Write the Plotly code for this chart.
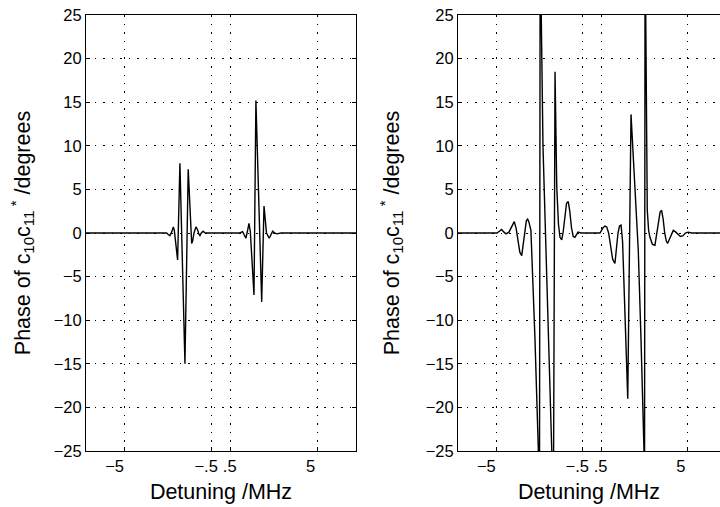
import plotly.graph_objects as go

# ---------------- data ----------------
# x positions are in axis units (grid lines at 0, 4.5, 5.5, 10)
x_left = [-2, 2.10, 2.18, 2.28, 2.35, 2.44, 2.53, 2.58, 2.75, 2.87, 3.13, 3.30, 3.44, 3.48, 3.53,
          3.60, 3.70, 3.78, 3.85, 3.91, 3.98, 4.07, 4.15, 4.25,
          5.90, 5.98, 6.12, 6.22, 6.29, 6.37, 6.45, 6.52, 6.71, 6.81, 7.11, 7.23, 7.36, 7.50,
          7.60, 7.68, 7.78, 7.89, 8.11, 12]
y_left = [0, 0, 0, -0.2, -0.3, 0.1, 0.7, 0.3, -3.1, 8.0, -15.0, 7.3, -0.6, -1.2, -0.9,
          0, 0.7, 0.4, -0.1, -0.3, 0, 0.2, 0.05, 0,
          0, 0, 0.15, -0.3, -0.6, 0.2, 1.1, 0.2, -7.1, 15.2, -7.9, 3.1, 0, -0.6,
          -0.1, 0.2, 0, -0.1, 0, 0]

x_right = [-2, 0.04, 0.16, 0.28, 0.40, 0.51, 0.66, 0.80, 0.94, 1.04, 1.13, 1.23, 1.33, 1.42,
           1.50, 1.57, 1.64, 1.70, 1.81, 2.02, 2.20, 2.25, 2.30, 2.35, 2.44, 2.55, 2.70, 2.90,
           2.97, 3.07, 3.16, 3.25, 3.33, 3.42, 3.50, 3.59, 3.67, 3.76, 3.84, 3.93, 4.02, 4.11,
           4.20, 4.27, 4.43,
           5.42, 5.50, 5.58, 5.68, 5.77, 5.87, 5.97, 6.08, 6.20, 6.30, 6.36, 6.44, 6.52, 6.60,
           6.87, 7.04, 7.34, 7.42, 7.56, 7.72, 7.74, 7.78, 7.81, 7.89, 7.96, 8.03, 8.16, 8.29,
           8.40, 8.48, 8.56, 8.64, 8.72, 8.80, 8.88, 8.95, 9.05, 9.15, 9.25, 9.38, 9.50, 9.62,
           9.76, 9.88, 10.02, 10.2, 11.69]
y_right = [0, 0, 0.2, 0.4, 0.1, -0.1, 0.1, 0.8, 1.3, 0.5, -0.8, -2.2, -2.6, -1.2,
           0.5, 1.4, 1.6, 1.3, 0.3, -12, -25, -45, 45, 25, 10, 1, -11, -25,
           -40, 18.5, 5.3, 1.0, -0.5, -0.8, 0.2, 2.2, 3.4, 3.6, 2.5, 0.6, -0.4, -0.5,
           -0.1, 0.1, 0,
           0, 0.3, 0.6, 0.8, 0.7, 0, -1.5, -3.0, -3.5, -1.5, 0, 0.8, 0.9, -1.0,
           -19, 13.6, 1.5, -2, -12, -25, -45, 45, 25, 2.6, 0.3, -0.5, -1.3, -1.4,
           0, 1.5, 2.4, 2.6, 1.6, 0, -0.9, -1.2, -0.7, 0, 0.3, 0.1, -0.2, -0.4,
           -0.3, 0, 0.1, 0, 0]

ytick_vals = [-25, -20, -15, -10, -5, 0, 5, 10, 15, 20, 25]
xgrid_vals = [0, 4.5, 5.5, 10]
xlabel_pos = [-0.52, 4.23, 5.45, 9.65]
xlabel_text = ["\u22125", "\u2212.5", ".5", "5"]

y_title = "Phase of c<sub>10</sub>c<sub>11</sub><sup> *</sup> /degrees"
x_title = "Detuning /MHz"

# ---------------- figure ----------------
FONT = "Liberation Sans, Arial, Helvetica, sans-serif"
W, H = 720, 507

fig = go.Figure()
fig.add_trace(go.Scatter(x=x_left, y=y_left, mode="lines",
                         line=dict(color="black", width=1.4), xaxis="x", yaxis="y",
                         showlegend=False, hoverinfo="skip"))
fig.add_trace(go.Scatter(x=x_right, y=y_right, mode="lines",
                         line=dict(color="black", width=1.4), xaxis="x2", yaxis="y2",
                         showlegend=False, hoverinfo="skip"))

ydom = [1 - 451 / H, 1 - 15 / H]
DASH = "1.5px,7px"

def xaxis_cfg(dom, rng):
    return dict(domain=dom, range=rng, tickmode="array", tickvals=xlabel_pos,
                ticktext=xlabel_text, ticks="", showgrid=False, zeroline=False,
                showline=True, linecolor="black", linewidth=1, mirror=True,
                tickfont=dict(family=FONT, size=16.5, color="black"),
                title=dict(text=x_title, font=dict(family=FONT, size=21.5, color="black"),
                           standoff=10),
                automargin=False,
                minor=dict(tickmode="array", tickvals=xgrid_vals, ticks="inside",
                           ticklen=4, tickcolor="black", showgrid=True,
                           gridcolor="black", gridwidth=1, griddash=DASH))

def yaxis_cfg(anchor, mirror, standoff):
    return dict(domain=ydom, range=[-25, 25], tickmode="array", tickvals=ytick_vals,
                ticks="inside", ticklen=4, tickcolor="black", showgrid=True,
                gridcolor="black", gridwidth=1, griddash=DASH, zeroline=False,
                showline=True, linecolor="black", linewidth=1, mirror=mirror,
                anchor=anchor,
                tickfont=dict(family=FONT, size=16.5, color="black"),
                title=dict(text=y_title, font=dict(family=FONT, size=21.5, color="black"),
                           standoff=standoff),
                automargin=False)

fig.update_layout(
    width=W, height=H,
    margin=dict(l=0, r=0, t=0, b=0),
    paper_bgcolor="white", plot_bgcolor="white",
    xaxis=xaxis_cfg([86 / W, 356 / W], [-2, 12]) | dict(anchor="y"),
    yaxis=yaxis_cfg("x", "ticks", 17),
    xaxis2=xaxis_cfg([458 / W, 1.0], [-2, 11.69]) | dict(anchor="y2"),
    yaxis2=yaxis_cfg("x2", False, 20),
    font=dict(family=FONT, color="black"),
)

fig.write_html("out.html")
